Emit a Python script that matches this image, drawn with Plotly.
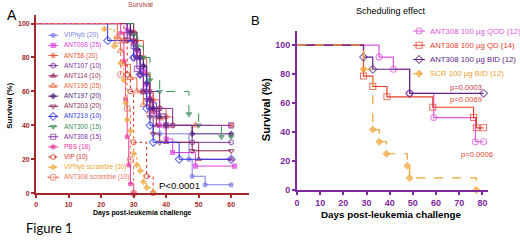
import plotly.graph_objects as go

# ---------------- Panel A data (Kaplan-Meier, days / % survival) ----------------
viphyb_t = [0, 29, 30, 31, 32, 33, 34, 35, 36, 37, 38, 47, 48, 52, 60]
viphyb_s = [100, 95, 90, 85, 80, 75, 70, 60, 50, 45, 35, 20, 10, 5, 5]
ant008_t = [0, 28, 30, 31, 32, 33, 34, 35, 36, 38, 40, 42, 49, 61]
ant008_s = [100, 96, 88, 84, 80, 72, 64, 56, 48, 40, 32, 24, 16, 16]
ant58_t = [0, 30, 31, 33, 34, 35, 36, 38, 40, 42, 60]
ant58_s = [100, 95, 90, 80, 70, 60, 55, 50, 45, 40, 40]
ant107_t = [0, 28, 30, 32, 34, 38, 42, 48, 60]
ant107_s = [100, 90, 80, 70, 60, 50, 40, 30, 30]
ant114_t = [0, 29, 31, 33, 35, 37, 40, 50, 60]
ant114_s = [100, 90, 80, 60, 50, 40, 30, 20, 20]
ant195_t = [0, 25, 26, 27, 29, 31, 33, 35, 38, 40, 49]
ant195_s = [100, 92, 84, 76, 68, 60, 52, 48, 44, 40, 40]
ant197_t = [0, 29, 31, 32, 33, 34, 35, 36, 38, 40, 48, 60]
ant197_s = [100, 95, 85, 80, 75, 65, 55, 50, 45, 40, 35, 35]
ant203_t = [0, 30, 31, 32, 33, 34, 35, 36, 38, 48, 60]
ant203_s = [100, 90, 80, 70, 60, 55, 45, 35, 30, 25, 25]
ant219_t = [0, 22, 30, 32, 34, 35, 36, 44, 60]
ant219_s = [100, 90, 80, 70, 50, 40, 30, 20, 20]
ant300_t = [0, 30, 31, 33, 35, 38, 47, 50, 57, 60]
ant300_s = [100, 93.3, 86.7, 80, 66.7, 60, 46.7, 40, 33.3, 33.3]
ant308_t = [0, 28, 30, 31, 33, 35, 37, 40, 60]
ant308_s = [100, 93.3, 86.7, 73.3, 60, 53.3, 46.7, 40, 40]
pbs_t = [0, 26, 27, 27.5, 28, 28.5, 29, 30]
pbs_s = [100, 94.4, 77.8, 55.6, 33.3, 16.7, 5.6, 0]
vip_t = [0, 27, 28, 29, 30, 34, 36]
vip_s = [100, 90, 70, 60, 30, 10, 0]
vhscr_t = [0, 21, 24, 26, 27, 27.5, 28, 29, 30, 31, 32, 33, 34, 36]
vhscr_s = [100, 96.7, 86.7, 76.7, 66.7, 53.3, 43.3, 36.7, 23.3, 16.7, 13.3, 6.7, 3.3, 0]
a308scr_t = [0, 25, 26, 28, 29, 30]
a308scr_s = [100, 90, 70, 50, 20, 0]

A_names = ["VIPhyb (20)", "ANT008 (25)", "ANT58 (20)", "ANT107 (10)", "ANT114 (10)",
           "ANT195 (25)", "ANT197 (20)", "ANT203 (20)", "ANT219 (10)", "ANT300 (15)",
           "ANT308 (15)", "PBS (18)", "VIP (10)", "VIPhyb scramble (30)", "ANT308 scramble (10)"]
A_times = [viphyb_t, ant008_t, ant58_t, ant107_t, ant114_t, ant195_t, ant197_t, ant203_t,
           ant219_t, ant300_t, ant308_t, pbs_t, vip_t, vhscr_t, a308scr_t]
A_surv = [viphyb_s, ant008_s, ant58_s, ant107_s, ant114_s, ant195_s, ant197_s, ant203_s,
          ant219_s, ant300_s, ant308_s, pbs_s, vip_s, vhscr_s, a308scr_s]
A_colors = ["#7b7fe6", "#e043e0", "#e8583a", "#7a2e9c", "#a02c68", "#e8643e", "#4e1e78",
            "#8c1f52", "#3036e4", "#3a9058", "#8232a4", "#e8399a", "#d42a1c", "#f0a232", "#e87462"]
A_symbols = ["circle", "square", "asterisk-open", "hexagon-open", "triangle-up", "triangle-up-open",
             "diamond", "triangle-down-open", "diamond-open", "triangle-down", "square-open",
             "circle", "octagon-open", "diamond", "circle-open-dot"]
A_sizes = [4, 4, 5, 5, 5, 6, 4, 5, 6, 5, 5, 4, 5, 4, 6]
A_dash = ["solid"] * 9 + ["dash", "solid", "solid", "dot", "dot", "dot"]

# ---------------- Panel B data ----------------
qod_t = [0, 35.4, 41.6, 48.6, 59, 77, 80.5]
qod_s = [100, 91.7, 83.3, 66.7, 50, 33.3, 33.3]
qd_t = [0, 28.7, 32.7, 38.8, 58.6, 76.2, 77.4, 80.5]
qd_s = [100, 78.6, 71.4, 64.3, 57.1, 50, 42.9, 42.9]
bid_t = [0, 28.7, 32.7, 48.6, 80.5]
bid_s = [100, 91.7, 83.3, 66.7, 66.7]
scr_t = [0, 28.7, 32.7, 35.5, 38.6, 47.6, 48.6, 77.4]
scr_s = [100, 83.3, 41.7, 33.3, 25, 16.7, 8.3, 0]

B_names = ["ANT308 100 \u00b5g QOD (12)", "ANT308 100 \u00b5g QD (14)",
           "ANT308 100 \u00b5g BID (12)", "SCR 100 \u00b5g BID (12)"]
B_times = [qod_t, qd_t, bid_t, scr_t]
B_surv = [qod_s, qd_s, bid_s, scr_s]
B_colors = ["#de55de", "#e63c2a", "#5c2484", "#f0a232"]
B_symbols = ["circle-open", "square-open", "diamond-open", "diamond"]
B_sizes = [6, 6, 6, 5]
B_dash = ["solid", "solid", "solid", "dash"]
B_pvals = ["p=0.0003", "p=0.0069", "p=0.0006"]
B_pval_colors = ["#d2304e", "#e2442e", "#e2442e"]

W, H = 520, 242
AX_A = "#a3282c"
AX_B = "#7e2a9e"
FONT = "Liberation Sans"

fig = go.Figure()

def km(t, s, color, sym, size, dash, xa, ya, lw=1.0):
    sizes = [0] + [size] * (len(t) - 1)
    fig.add_trace(go.Scatter(
        x=t, y=s, mode="lines+markers", line=dict(shape="hv", color=color, width=lw, dash=dash),
        marker=dict(symbol=sym, size=sizes, color=color, line=dict(color=color, width=1.1)),
        xaxis=xa, yaxis=ya, showlegend=False, hoverinfo="skip", cliponaxis=False))

for t, s, c, sy, sz, d in zip(A_times, A_surv, A_colors, A_symbols, A_sizes, A_dash):
    km(t, s, c, sy, sz, d, "x", "y")
for t, s, c, sy, sz, d in zip(B_times, B_surv, B_colors, B_symbols, B_sizes, B_dash):
    km(t, s, c, sy, sz, d, "x2", "y2", lw=1.2)

# ---- custom legends on a pixel overlay axis ----
annotations = []

def legend(names, colors, symbols, sizes, dashes, cx, y0, dy, half, tx, fsize):
    for i, (n, c, sy, sz, d) in enumerate(zip(names, colors, symbols, sizes, dashes)):
        yy = y0 + i * dy
        fig.add_trace(go.Scatter(
            x=[cx - half, cx, cx + half], y=[yy, yy, yy], mode="lines+markers",
            line=dict(color=c, width=1, dash="solid" if d == "solid" else "dot"),
            marker=dict(symbol=sy, size=[0, sz, 0], color=c, line=dict(color=c, width=1.1)),
            xaxis="x3", yaxis="y3", showlegend=False, hoverinfo="skip"))
        annotations.append(dict(x=tx / W, y=1 - yy / H, xref="paper", yref="paper", text=n,
                                showarrow=False, xanchor="left", yanchor="middle",
                                font=dict(family=FONT, size=fsize, color=c)))

legend(A_names, A_colors, A_symbols, A_sizes, A_dash, 50.5, 36, 10.36, 5, 59.5, 6.5)
legend(B_names, B_colors, B_symbols, B_sizes, B_dash, 418.5, 31.7, 14.5, 6, 427.5, 7.8)

def ann(text, x, y, size, color="#000", bold=False, angle=0, xanchor="center", family=FONT):
    annotations.append(dict(x=x / W, y=1 - y / H, xref="paper", yref="paper",
                            text=f"<b>{text}</b>" if bold else text, showarrow=False,
                            xanchor=xanchor, yanchor="middle", textangle=angle,
                            font=dict(family=family, size=size, color=color)))

ann("Survival", 138, 5, 7, color="#a8383a")
ann("A", 9, 15, 14)
ann("Survival (%)", 7, 108, 8, bold=True, angle=-90)
ann("Days post-leukemia challenge", 140, 217, 6.9, bold=True)
ann("P<0.0001", 155, 189, 9.5, xanchor="left")
ann("Figure 1", 21, 233, 13, xanchor="left", family="Lato")

ann("Scheduling effect", 390, 11, 9)
ann("B", 254, 21, 13)
ann("Survival (%)", 264, 112, 11, bold=True, angle=-90)
ann("Days post-leukemia challenge", 390, 219, 9.8, bold=True)
ann(B_pvals[0], 448, 89, 7.6, color=B_pval_colors[0], xanchor="left")
ann(B_pvals[1], 448, 102, 7.6, color=B_pval_colors[1], xanchor="left")
ann(B_pvals[2], 459, 157.5, 7.6, color=B_pval_colors[2], xanchor="left")

def axis(color, domain, rng, tvals, tsize, anchor):
    return dict(domain=domain, range=rng, tickvals=tvals, showline=True, linecolor=color,
                linewidth=2, ticks="outside", ticklen=3, tickwidth=1.5, tickcolor=color,
                showgrid=False, zeroline=False, anchor=anchor,
                tickfont=dict(family=FONT, size=tsize, color=color, weight="bold"))

fig.update_layout(
    width=W, height=H, margin=dict(l=0, r=0, t=0, b=0),
    paper_bgcolor="white", plot_bgcolor="rgba(0,0,0,0)", showlegend=False,
    xaxis=axis(AX_A, [33.3 / W, 247.5 / W], [0, 65.5], [0, 10, 20, 30, 40, 50, 60], 7, "y"),
    yaxis=axis(AX_A, [1 - 197.3 / H, 1 - 15.4 / H], [0, 105], [0, 20, 40, 60, 80, 100], 7, "x"),
    xaxis2=axis(AX_B, [295.7 / W, 488 / W], [0, 82.5], [0, 10, 20, 30, 40, 50, 60, 70, 80], 9, "y2"),
    yaxis2=axis(AX_B, [1 - 194 / H, 1 - 31.2 / H], [0, 110], [0, 20, 40, 60, 80, 100], 9, "x2"),
    xaxis3=dict(domain=[0, 1], range=[0, W], visible=False, anchor="y3"),
    yaxis3=dict(domain=[0, 1], range=[H, 0], visible=False, anchor="x3"),
    annotations=annotations,
)

fig.write_html("out.html", config={"displayModeBar": False},
               post_script="document.body.style.margin='0px';")
